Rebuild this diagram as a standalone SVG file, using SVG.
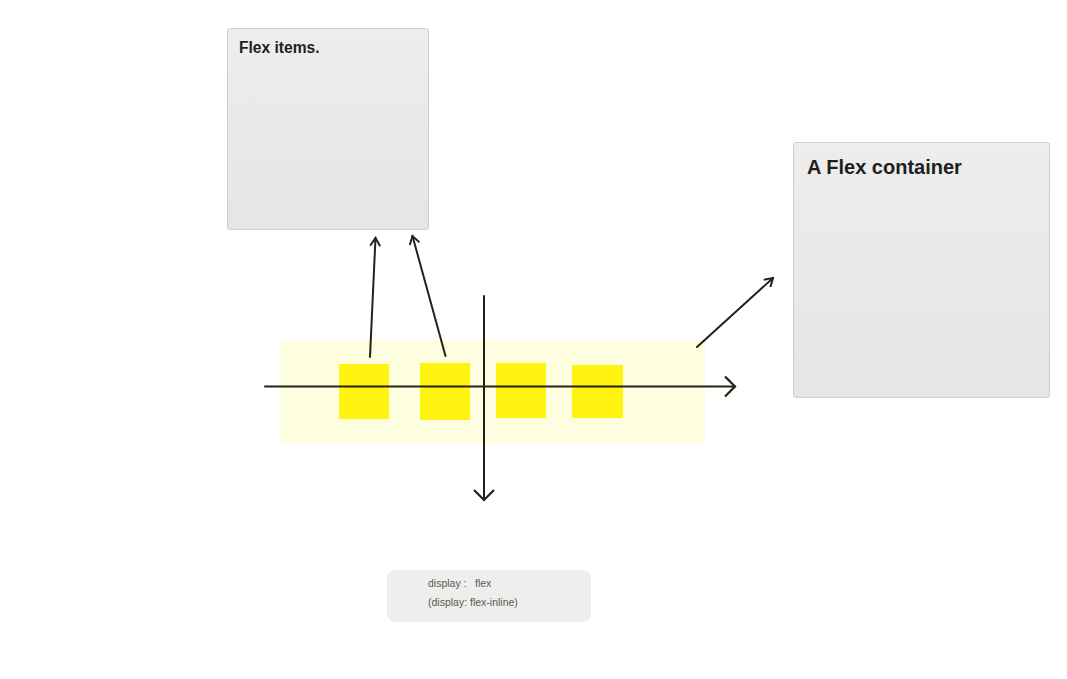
<svg xmlns="http://www.w3.org/2000/svg" width="1067" height="679" viewBox="0 0 1067 679">
<style>
.card{fill:url(#g);stroke:#cfcfcf;stroke-width:1}
.title{font-family:"Liberation Sans",Arial,sans-serif;font-weight:bold;fill:#1f1f1f}
.note{font-family:"Liberation Sans","Noto Sans CJK SC",sans-serif;font-size:10.5px;fill:#5a5a48}
.ln{stroke:#222218;stroke-width:2;fill:none;stroke-linecap:round}
.item{fill:#fff30f}
</style>
<defs>
<linearGradient id="g" x1="0" y1="0" x2="0" y2="1">
<stop offset="0" stop-color="#ededed"/>
<stop offset="1" stop-color="#e5e5e5"/>
</linearGradient>
<marker id="a" viewBox="0 0 12 12" refX="10" refY="6" markerWidth="12" markerHeight="12" markerUnits="userSpaceOnUse" orient="auto">
<path d="M2,1 L10,6 L2,11" fill="none" stroke="#222218" stroke-width="2"/>
</marker>
<marker id="b" viewBox="0 0 22 22" refX="20" refY="11" markerWidth="22" markerHeight="22" markerUnits="userSpaceOnUse" orient="auto">
<path d="M10,1 L20,11 L10,21" fill="none" stroke="#222218" stroke-width="2.2"/>
</marker>
</defs>
<rect width="1067" height="679" fill="#fff"/>
<g id="flex-items-card">
<rect class="card" x="227.5" y="28.5" width="201" height="201" rx="2"/>
<text class="title" x="239" y="53" font-size="15.6">Flex items.</text>
</g>
<g id="flex-container-card">
<rect class="card" x="793.5" y="142.5" width="256" height="255" rx="2"/>
<text class="title" x="807" y="174" font-size="20">A Flex container</text>
</g>
<g id="container-band">
<rect x="280" y="340" width="425" height="104" fill="#fdfde0"/>
</g>
<g id="items">
<rect class="item" x="339" y="364" width="50" height="55"/>
<rect class="item" x="420" y="363" width="50" height="57"/>
<rect class="item" x="496" y="363" width="50" height="55"/>
<rect class="item" x="572" y="365" width="51" height="53"/>
</g>
<g id="display-note">
<rect x="387" y="570" width="204" height="52" rx="8" fill="#eeeeee"/>
<text class="note" y="587"><tspan x="428">display :</tspan><tspan x="475">flex</tspan></text>
<text class="note" x="428" y="606">(display: flex-inline)</text>
</g>
<g id="connectors">
<line class="ln" x1="265" y1="386.5" x2="735" y2="386.5" marker-end="url(#b)"/>
<line class="ln" x1="484" y1="296" x2="484" y2="500" marker-end="url(#b)"/>
<line class="ln" x1="370" y1="357" x2="375.5" y2="238" marker-end="url(#a)"/>
<line class="ln" x1="445.5" y1="356" x2="412.5" y2="236" marker-end="url(#a)"/>
<line class="ln" x1="697" y1="347" x2="773" y2="278" marker-end="url(#a)"/>
</g>
</svg>
